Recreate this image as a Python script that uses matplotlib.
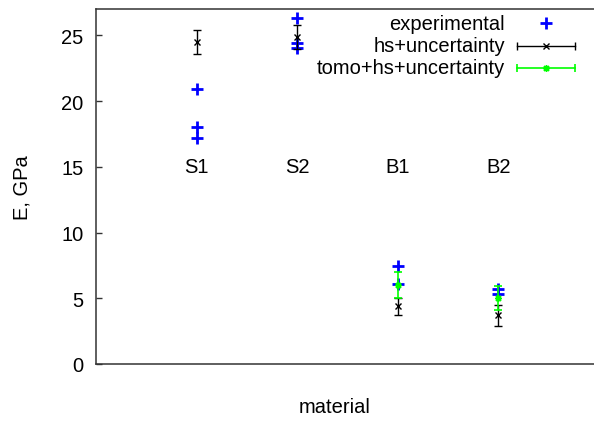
"""
Module d'Young par materiau : mesures experimentales contre estimations
hs+incertitude et tomo+hs+incertitude (style gnuplot).
"""

import matplotlib
matplotlib.use("Agg")
import matplotlib.pyplot as plt

plt.rcParams["font.family"] = ["Liberation Sans", "DejaVu Sans"]
FS = 14.5

# categories
materiaux = ["S1", "S2", "B1", "B2"]
pos_mat = [1, 2, 3, 4]

# experimental (plusieurs points par materiau)
exp_x = [1, 1, 1, 2, 2, 2, 3, 3, 4, 4]
exp_E = [20.9, 18.0, 17.2, 26.3, 24.4, 24.0, 7.45, 6.05, 5.7, 5.35]

# hs + incertitude
hs_x = [1, 2, 3, 4]
hs_E = [24.5, 24.85, 4.4, 3.7]
hs_err = [0.9, 0.9, 0.65, 0.82]

# tomo + hs + incertitude
tomo_x = [3, 4]
tomo_E = [6.0, 5.0]
tomo_err = [0.98, 0.92]

BLEU = "#0000ff"
VERT = "#00ff00"
BORD = "#333333"

fig = plt.figure(figsize=(5.94, 4.31), dpi=100)
ax = fig.add_axes([96 / 594, 66 / 431, 503 / 594, 355 / 431])

ax.plot(exp_x, exp_E, ls="none", marker="+", ms=9, mew=2, color=BLEU,
        zorder=3)
ax.errorbar(hs_x, hs_E, yerr=hs_err, fmt="x", ms=4, mew=1, color="black",
            ecolor="black", elinewidth=1, capsize=3, capthick=1, zorder=4)
ax.errorbar(tomo_x, tomo_E, yerr=tomo_err, fmt="none", color=VERT,
            ecolor=VERT, elinewidth=1.2, capsize=3, capthick=1.2, zorder=5)
ax.plot(tomo_x, tomo_E, ls="none", marker=(8, 2, 0), ms=5, mew=1,
        color=VERT, zorder=5)

# etiquettes des materiaux dans le graphe
for x, nom in zip(pos_mat, materiaux):
    ax.text(x, 15, nom, ha="center", va="center", fontsize=FS)

ax.set_xlim(0, 5)
ax.set_ylim(0, 27)
ax.set_yticks([0, 5, 10, 15, 20, 25])
ax.set_xticks([])
ax.tick_params(axis="y", direction="in", length=4, width=1, color=BORD,
               labelsize=FS, pad=9)
for s in ("left", "bottom", "top"):
    ax.spines[s].set_color(BORD)
    ax.spines[s].set_linewidth(1.1)
ax.spines["right"].set_visible(False)

fig.text(22 / 594, 1 - 188 / 431, "E, GPa", rotation=90, ha="center",
         va="center", fontsize=FS)
fig.text(335 / 594, 1 - 408 / 431, "material", ha="center", va="center",
         fontsize=FS)

# legende facon gnuplot : texte aligne a droite, echantillon a droite
tr = ax.transAxes
lx0, lx1 = (517 - 96) / 503, (575 - 96) / 503
lxm = (lx0 + lx1) / 2
lignes = [("experimental", 24), ("hs+uncertainty", 47),
          ("tomo+hs+uncertainty", 69)]
for (lab, ypx) in lignes:
    yy = (365 - ypx) / 355
    ax.text((505 - 96) / 503, yy, lab, transform=tr, ha="right",
            va="center", fontsize=FS)
y_e, y_h, y_t = [(365 - p) / 355 for _, p in lignes]
ax.plot([lxm], [y_e], transform=tr, marker="+", ms=9, mew=2, color=BLEU,
        clip_on=False)
ax.plot([lx0, lx1], [y_h, y_h], transform=tr, color="black", lw=1,
        clip_on=False)
ax.plot([lx0, lx1], [y_h, y_h], transform=tr, ls="none", marker="|", ms=6,
        mew=1, color="black", clip_on=False)
ax.plot([lxm], [y_h], transform=tr, marker="x", ms=4, mew=1, color="black",
        clip_on=False)
ax.plot([lx0, lx1], [y_t, y_t], transform=tr, color=VERT, lw=1.2,
        clip_on=False)
ax.plot([lx0, lx1], [y_t, y_t], transform=tr, ls="none", marker="|", ms=6,
        mew=1.2, color=VERT, clip_on=False)
ax.plot([lxm], [y_t], transform=tr, marker=(8, 2, 0), ms=5, mew=1,
        color=VERT, clip_on=False)

fig.savefig("out.png", dpi=100)
